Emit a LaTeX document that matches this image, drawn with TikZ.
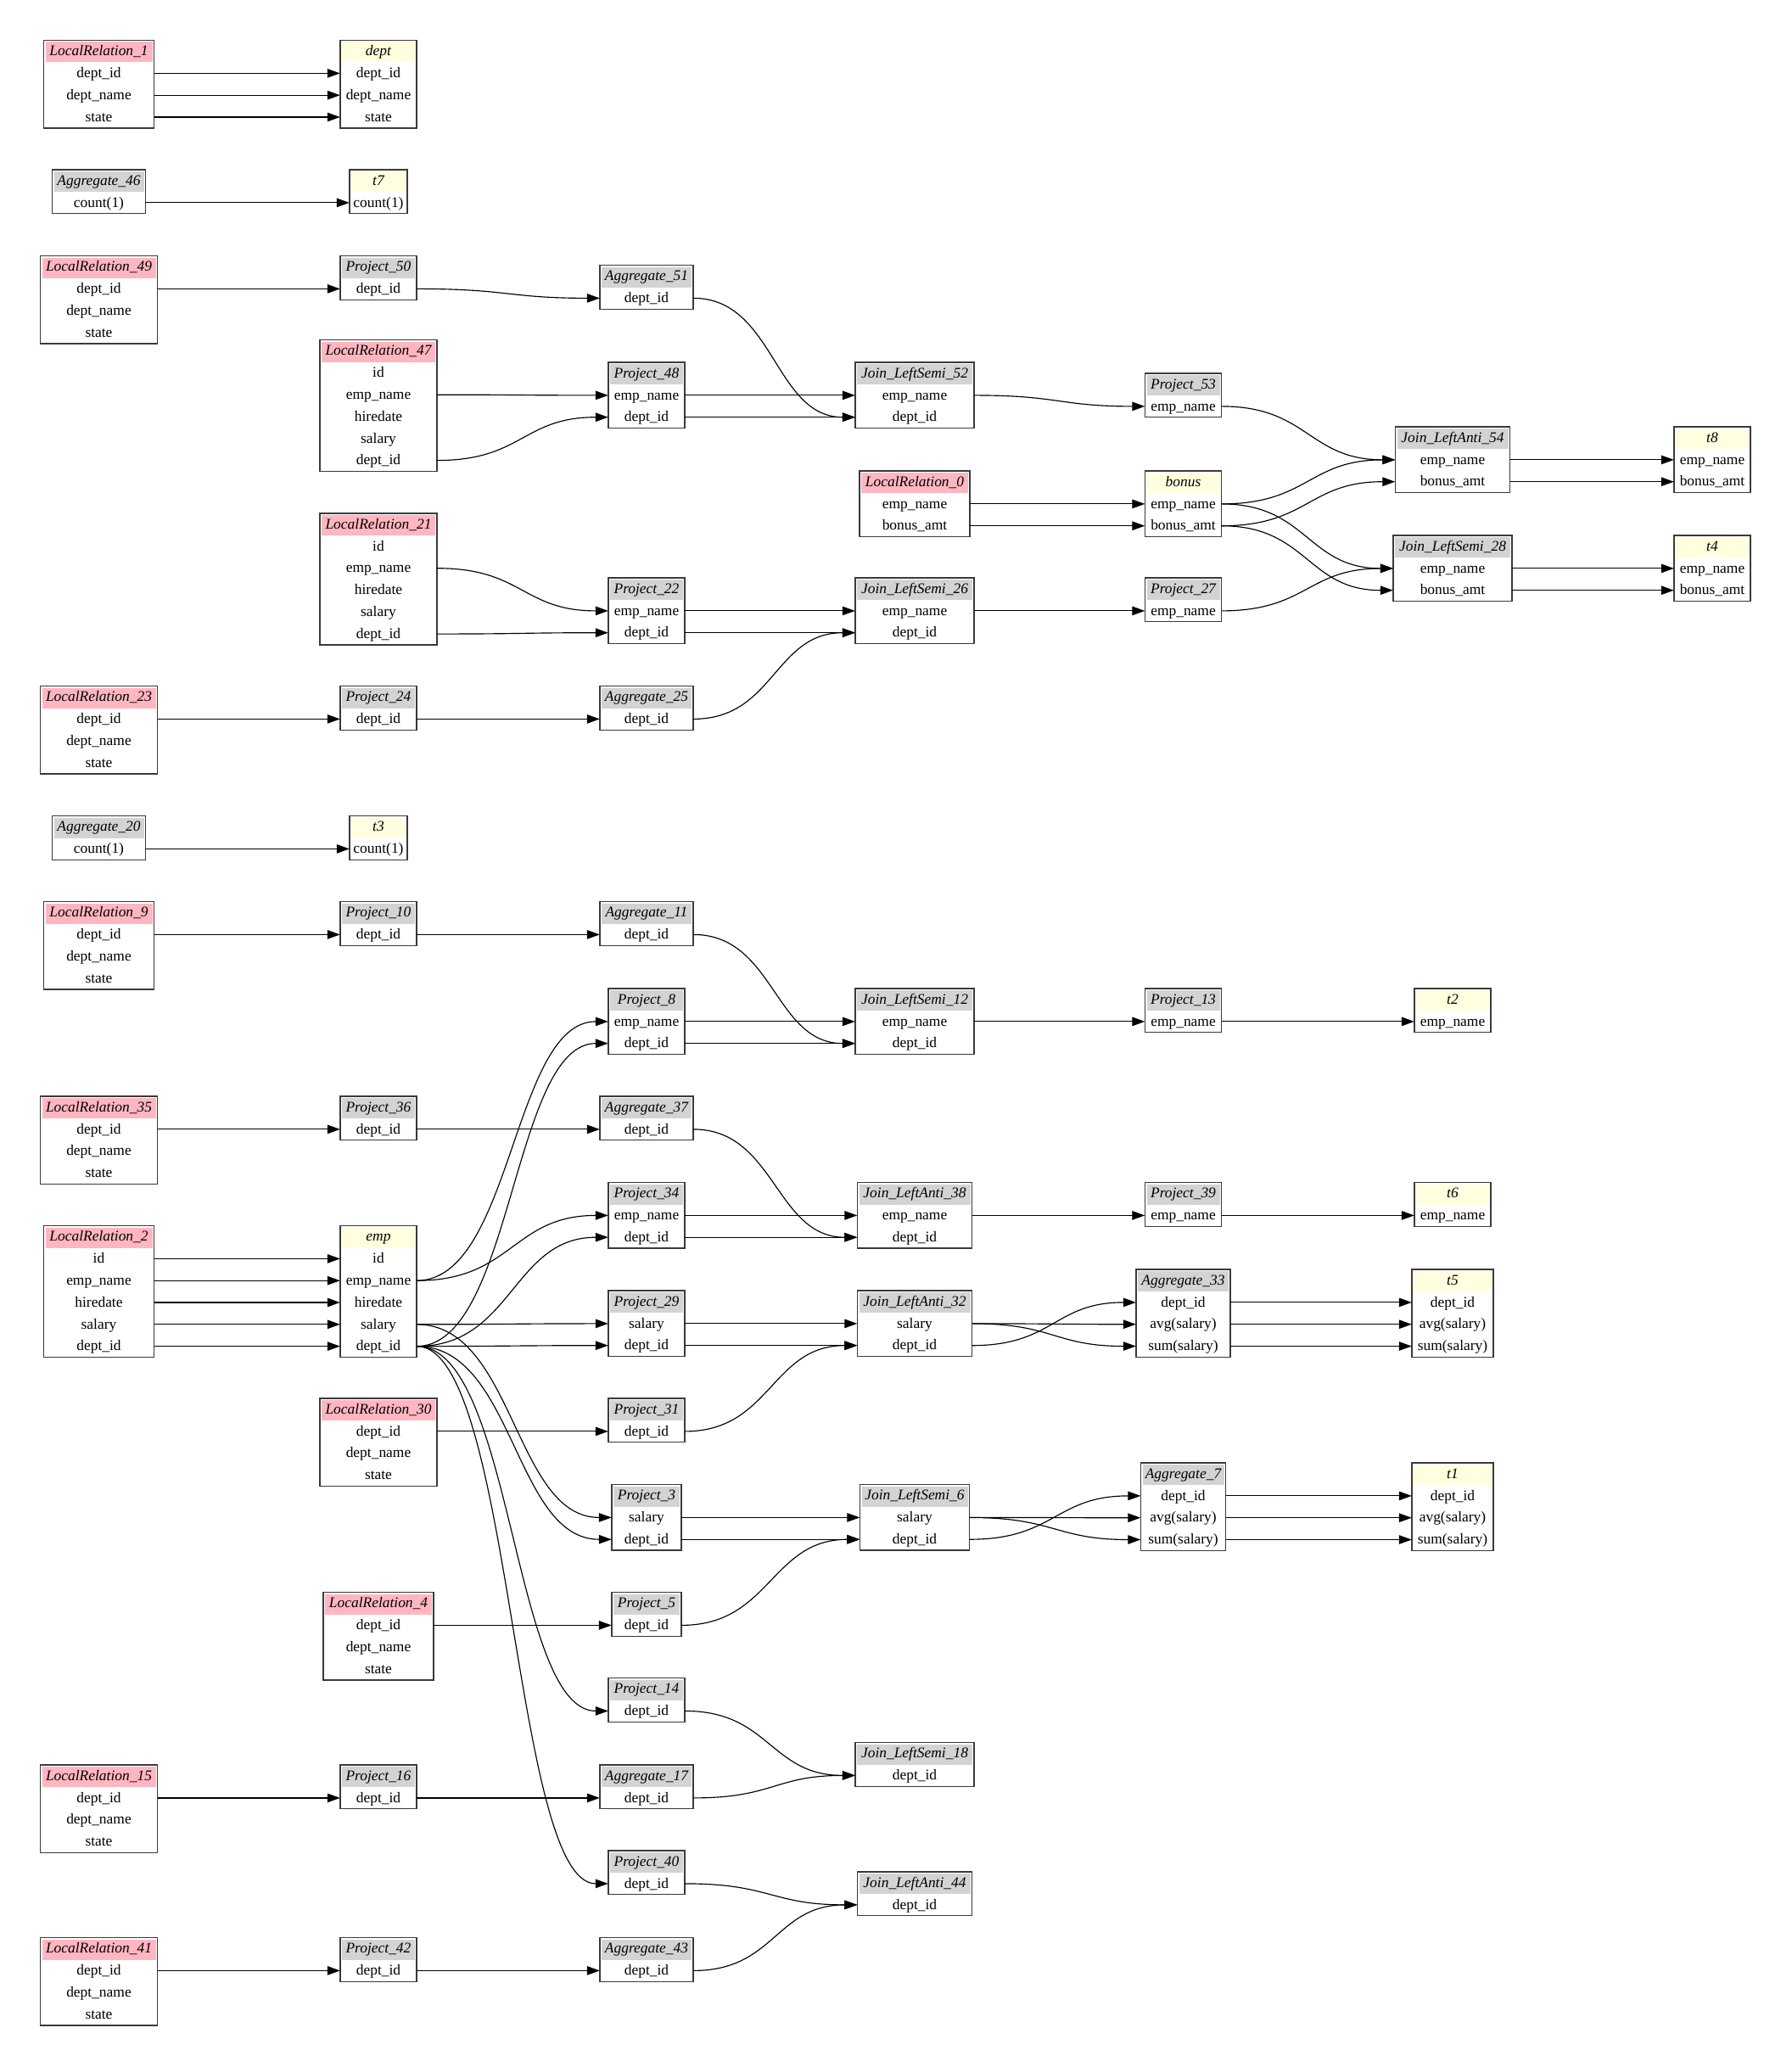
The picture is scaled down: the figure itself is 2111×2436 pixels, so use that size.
\documentclass[tikz,border=0pt]{standalone}
\usepackage{fontspec}
\setmainfont{Liberation Serif}
\usetikzlibrary{arrows.meta,calc}

\definecolor{hdrpink}{HTML}{FFB6C1}
\definecolor{hdrgray}{HTML}{D3D3D3}
\definecolor{hdryellow}{HTML}{FFFFE0}
\definecolor{framecol}{HTML}{3A3A3A}

\tikzset{
  frame/.style={draw=framecol, line width=1.3bp},
  title/.style={inner sep=0pt, minimum height=26bp, text height=13.5bp, text depth=3bp,
                font=\itshape\fontsize{17.5}{20}\selectfont},
  cell/.style={inner sep=0pt, minimum height=25.8bp, text height=13.5bp, text depth=3bp,
               font=\fontsize{17.5}{20}\selectfont},
  edge/.style={draw=black, line width=1.15bp, -{Triangle[length=15bp,width=10.5bp]}},
}

\newcommand{\hdr}{26}
\newcommand{\rowh}{25.8}

% table: name, center x, top y, width, header colour, title, rows
\newcommand{\tbl}[7]{%
  \fill[#5] ({#2-#4/2+2},{#3+2}) rectangle ({#2+#4/2-2},{#3+\hdr});
  \node[title, minimum width=#4bp] (#1) at (#2,{#3+\hdr/2}) {#6};
  \foreach \rw [count=\k] in {#7} {
    \node[cell, minimum width=#4bp] (#1-\k) at (#2,{#3+\hdr+(\k-0.5)*\rowh}) {\rw};
    \xdef\lastrow{\k}
  }
  \draw[frame] ({#2-#4/2},#3) rectangle ({#2+#4/2},{#3+\hdr+\lastrow*\rowh});
}

% field-to-field connector
\newcommand{\lnk}[2]{%
  \draw[edge] let \p1=(#1.east), \p2=(#2.west), \n1={(\x2-\x1)/2} in
    (\p1) .. controls +(\n1,0pt) and +(-\n1,0pt) .. (\p2);
}

\begin{document}
\begin{tikzpicture}[x=1bp, y=-1bp]
\useasboundingbox (0,0) rectangle (2111,2436);
\fill[white] (0,0) rectangle (2111,2436);

% column centres
\def\cA{116.5}
\def\cB{446}
\def\cC{762}
\def\cD{1078}
\def\cE{1394.5}
\def\cF{1712}
\def\cG{2018}

% ---- dept
\tbl{lr1}{\cA}{47.5}{130}{hdrpink}{LocalRelation\_1}{dept\_id,dept\_name,state}
\tbl{dept}{\cB}{47.5}{90}{hdryellow}{dept}{dept\_id,dept\_name,state}

% ---- t7
\tbl{ag46}{\cA}{200}{110}{hdrgray}{Aggregate\_46}{count(1)}
\tbl{t7}{\cB}{200}{68}{hdryellow}{t7}{count(1)}

% ---- t8 / t4
\tbl{lr49}{\cA}{301.5}{138}{hdrpink}{LocalRelation\_49}{dept\_id,dept\_name,state}
\tbl{p50}{\cB}{301.5}{90}{hdrgray}{Project\_50}{dept\_id}
\tbl{ag51}{\cC}{312.5}{110}{hdrgray}{Aggregate\_51}{dept\_id}
\tbl{lr47}{\cB}{400.5}{138}{hdrpink}{LocalRelation\_47}{id,emp\_name,hiredate,salary,dept\_id}
\tbl{p48}{\cC}{427}{90}{hdrgray}{Project\_48}{emp\_name,dept\_id}
\tbl{js52}{\cD}{427}{140}{hdrgray}{Join\_LeftSemi\_52}{emp\_name,dept\_id}
\tbl{p53}{\cE}{440}{90}{hdrgray}{Project\_53}{emp\_name}
\tbl{lr0}{\cD}{555}{130}{hdrpink}{LocalRelation\_0}{emp\_name,bonus\_amt}
\tbl{bonus}{\cE}{555}{90}{hdryellow}{bonus}{emp\_name,bonus\_amt}
\tbl{ja54}{\cF}{503}{135}{hdrgray}{Join\_LeftAnti\_54}{emp\_name,bonus\_amt}
\tbl{t8}{\cG}{503}{90}{hdryellow}{t8}{emp\_name,bonus\_amt}
\tbl{js28}{\cF}{631}{140}{hdrgray}{Join\_LeftSemi\_28}{emp\_name,bonus\_amt}
\tbl{t4}{\cG}{631}{90}{hdryellow}{t4}{emp\_name,bonus\_amt}
\tbl{lr21}{\cB}{605}{138}{hdrpink}{LocalRelation\_21}{id,emp\_name,hiredate,salary,dept\_id}
\tbl{p22}{\cC}{681}{90}{hdrgray}{Project\_22}{emp\_name,dept\_id}
\tbl{js26}{\cD}{681}{140}{hdrgray}{Join\_LeftSemi\_26}{emp\_name,dept\_id}
\tbl{p27}{\cE}{681}{90}{hdrgray}{Project\_27}{emp\_name}
\tbl{lr23}{\cA}{808.5}{138}{hdrpink}{LocalRelation\_23}{dept\_id,dept\_name,state}
\tbl{p24}{\cB}{808.5}{90}{hdrgray}{Project\_24}{dept\_id}
\tbl{ag25}{\cC}{808.5}{110}{hdrgray}{Aggregate\_25}{dept\_id}

% ---- t3
\tbl{ag20}{\cA}{961.5}{110}{hdrgray}{Aggregate\_20}{count(1)}
\tbl{t3}{\cB}{961.5}{68}{hdryellow}{t3}{count(1)}

% ---- t2
\tbl{lr9}{\cA}{1062.5}{130}{hdrpink}{LocalRelation\_9}{dept\_id,dept\_name,state}
\tbl{p10}{\cB}{1062.5}{90}{hdrgray}{Project\_10}{dept\_id}
\tbl{ag11}{\cC}{1062.5}{110}{hdrgray}{Aggregate\_11}{dept\_id}
\tbl{p8}{\cC}{1165}{90}{hdrgray}{Project\_8}{emp\_name,dept\_id}
\tbl{js12}{\cD}{1165}{140}{hdrgray}{Join\_LeftSemi\_12}{emp\_name,dept\_id}
\tbl{p13}{\cE}{1165}{90}{hdrgray}{Project\_13}{emp\_name}
\tbl{t2}{\cF}{1165}{90}{hdryellow}{t2}{emp\_name}

% ---- t6
\tbl{lr35}{\cA}{1292}{138}{hdrpink}{LocalRelation\_35}{dept\_id,dept\_name,state}
\tbl{p36}{\cB}{1292}{90}{hdrgray}{Project\_36}{dept\_id}
\tbl{ag37}{\cC}{1292}{110}{hdrgray}{Aggregate\_37}{dept\_id}
\tbl{p34}{\cC}{1393.5}{90}{hdrgray}{Project\_34}{emp\_name,dept\_id}
\tbl{ja38}{\cD}{1393.5}{135}{hdrgray}{Join\_LeftAnti\_38}{emp\_name,dept\_id}
\tbl{p39}{\cE}{1393.5}{90}{hdrgray}{Project\_39}{emp\_name}
\tbl{t6}{\cF}{1393.5}{90}{hdryellow}{t6}{emp\_name}

% ---- emp
\tbl{lr2}{\cA}{1444.5}{130}{hdrpink}{LocalRelation\_2}{id,emp\_name,hiredate,salary,dept\_id}
\tbl{emp}{\cB}{1444.5}{90}{hdryellow}{emp}{id,emp\_name,hiredate,salary,dept\_id}

% ---- t5
\tbl{p29}{\cC}{1521}{90}{hdrgray}{Project\_29}{salary,dept\_id}
\tbl{ja32}{\cD}{1521}{135}{hdrgray}{Join\_LeftAnti\_32}{salary,dept\_id}
\tbl{ag33}{\cE}{1496}{111}{hdrgray}{Aggregate\_33}{dept\_id,avg(salary),sum(salary)}
\tbl{t5}{\cF}{1496}{96}{hdryellow}{t5}{dept\_id,avg(salary),sum(salary)}
\tbl{lr30}{\cB}{1648}{138}{hdrpink}{LocalRelation\_30}{dept\_id,dept\_name,state}
\tbl{p31}{\cC}{1648}{90}{hdrgray}{Project\_31}{dept\_id}

% ---- t1
\tbl{p3}{\cC}{1749.5}{82}{hdrgray}{Project\_3}{salary,dept\_id}
\tbl{js6}{\cD}{1749.5}{129}{hdrgray}{Join\_LeftSemi\_6}{salary,dept\_id}
\tbl{ag7}{\cE}{1724}{100}{hdrgray}{Aggregate\_7}{dept\_id,avg(salary),sum(salary)}
\tbl{t1}{\cF}{1724}{96}{hdryellow}{t1}{dept\_id,avg(salary),sum(salary)}
\tbl{lr4}{\cB}{1876.5}{130}{hdrpink}{LocalRelation\_4}{dept\_id,dept\_name,state}
\tbl{p5}{\cC}{1876.5}{82}{hdrgray}{Project\_5}{dept\_id}

% ---- semi / anti joins on dept_id
\tbl{p14}{\cC}{1977.5}{90}{hdrgray}{Project\_14}{dept\_id}
\tbl{js18}{\cD}{2053.5}{140}{hdrgray}{Join\_LeftSemi\_18}{dept\_id}
\tbl{lr15}{\cA}{2080}{138}{hdrpink}{LocalRelation\_15}{dept\_id,dept\_name,state}
\tbl{p16}{\cB}{2080}{90}{hdrgray}{Project\_16}{dept\_id}
\tbl{ag17}{\cC}{2080}{110}{hdrgray}{Aggregate\_17}{dept\_id}
\tbl{p40}{\cC}{2181}{90}{hdrgray}{Project\_40}{dept\_id}
\tbl{ja44}{\cD}{2206}{135}{hdrgray}{Join\_LeftAnti\_44}{dept\_id}
\tbl{lr41}{\cA}{2283.5}{138}{hdrpink}{LocalRelation\_41}{dept\_id,dept\_name,state}
\tbl{p42}{\cB}{2283.5}{90}{hdrgray}{Project\_42}{dept\_id}
\tbl{ag43}{\cC}{2283.5}{110}{hdrgray}{Aggregate\_43}{dept\_id}

% ================= connectors
\lnk{lr1-1}{dept-1}\lnk{lr1-2}{dept-2}\lnk{lr1-3}{dept-3}
\lnk{ag46-1}{t7-1}

\lnk{lr49-1}{p50-1}\lnk{p50-1}{ag51-1}
\lnk{lr47-2}{p48-1}\lnk{lr47-5}{p48-2}
\lnk{p48-1}{js52-1}\lnk{p48-2}{js52-2}\lnk{ag51-1}{js52-2}
\lnk{js52-1}{p53-1}
\lnk{lr0-1}{bonus-1}\lnk{lr0-2}{bonus-2}
\lnk{p53-1}{ja54-1}\lnk{bonus-1}{ja54-1}\lnk{bonus-2}{ja54-2}
\lnk{ja54-1}{t8-1}\lnk{ja54-2}{t8-2}
\lnk{bonus-1}{js28-1}\lnk{bonus-2}{js28-2}\lnk{p27-1}{js28-1}
\lnk{js28-1}{t4-1}\lnk{js28-2}{t4-2}
\lnk{lr21-2}{p22-1}\lnk{lr21-5}{p22-2}
\lnk{p22-1}{js26-1}\lnk{p22-2}{js26-2}\lnk{ag25-1}{js26-2}
\lnk{js26-1}{p27-1}
\lnk{lr23-1}{p24-1}\lnk{p24-1}{ag25-1}

\lnk{ag20-1}{t3-1}

\lnk{lr9-1}{p10-1}\lnk{p10-1}{ag11-1}\lnk{ag11-1}{js12-2}
\lnk{emp-2}{p8-1}\lnk{emp-5}{p8-2}
\lnk{p8-1}{js12-1}\lnk{p8-2}{js12-2}
\lnk{js12-1}{p13-1}\lnk{p13-1}{t2-1}

\lnk{lr35-1}{p36-1}\lnk{p36-1}{ag37-1}\lnk{ag37-1}{ja38-2}
\lnk{emp-2}{p34-1}\lnk{emp-5}{p34-2}
\lnk{p34-1}{ja38-1}\lnk{p34-2}{ja38-2}
\lnk{ja38-1}{p39-1}\lnk{p39-1}{t6-1}

\foreach \j in {1,...,5} {\lnk{lr2-\j}{emp-\j}}

\lnk{emp-4}{p29-1}\lnk{emp-5}{p29-2}
\lnk{p29-1}{ja32-1}\lnk{p29-2}{ja32-2}\lnk{p31-1}{ja32-2}
\lnk{ja32-2}{ag33-1}\lnk{ja32-1}{ag33-2}\lnk{ja32-1}{ag33-3}
\foreach \j in {1,2,3} {\lnk{ag33-\j}{t5-\j}}
\lnk{lr30-1}{p31-1}

\lnk{emp-4}{p3-1}\lnk{emp-5}{p3-2}
\lnk{p3-1}{js6-1}\lnk{p3-2}{js6-2}\lnk{p5-1}{js6-2}
\lnk{js6-2}{ag7-1}\lnk{js6-1}{ag7-2}\lnk{js6-1}{ag7-3}
\foreach \j in {1,2,3} {\lnk{ag7-\j}{t1-\j}}
\lnk{lr4-1}{p5-1}

\lnk{emp-5}{p14-1}\lnk{p14-1}{js18-1}\lnk{ag17-1}{js18-1}
\lnk{lr15-1}{p16-1}\lnk{p16-1}{ag17-1}
\lnk{emp-5}{p40-1}\lnk{p40-1}{ja44-1}\lnk{ag43-1}{ja44-1}
\lnk{lr41-1}{p42-1}\lnk{p42-1}{ag43-1}
\end{tikzpicture}
\end{document}
